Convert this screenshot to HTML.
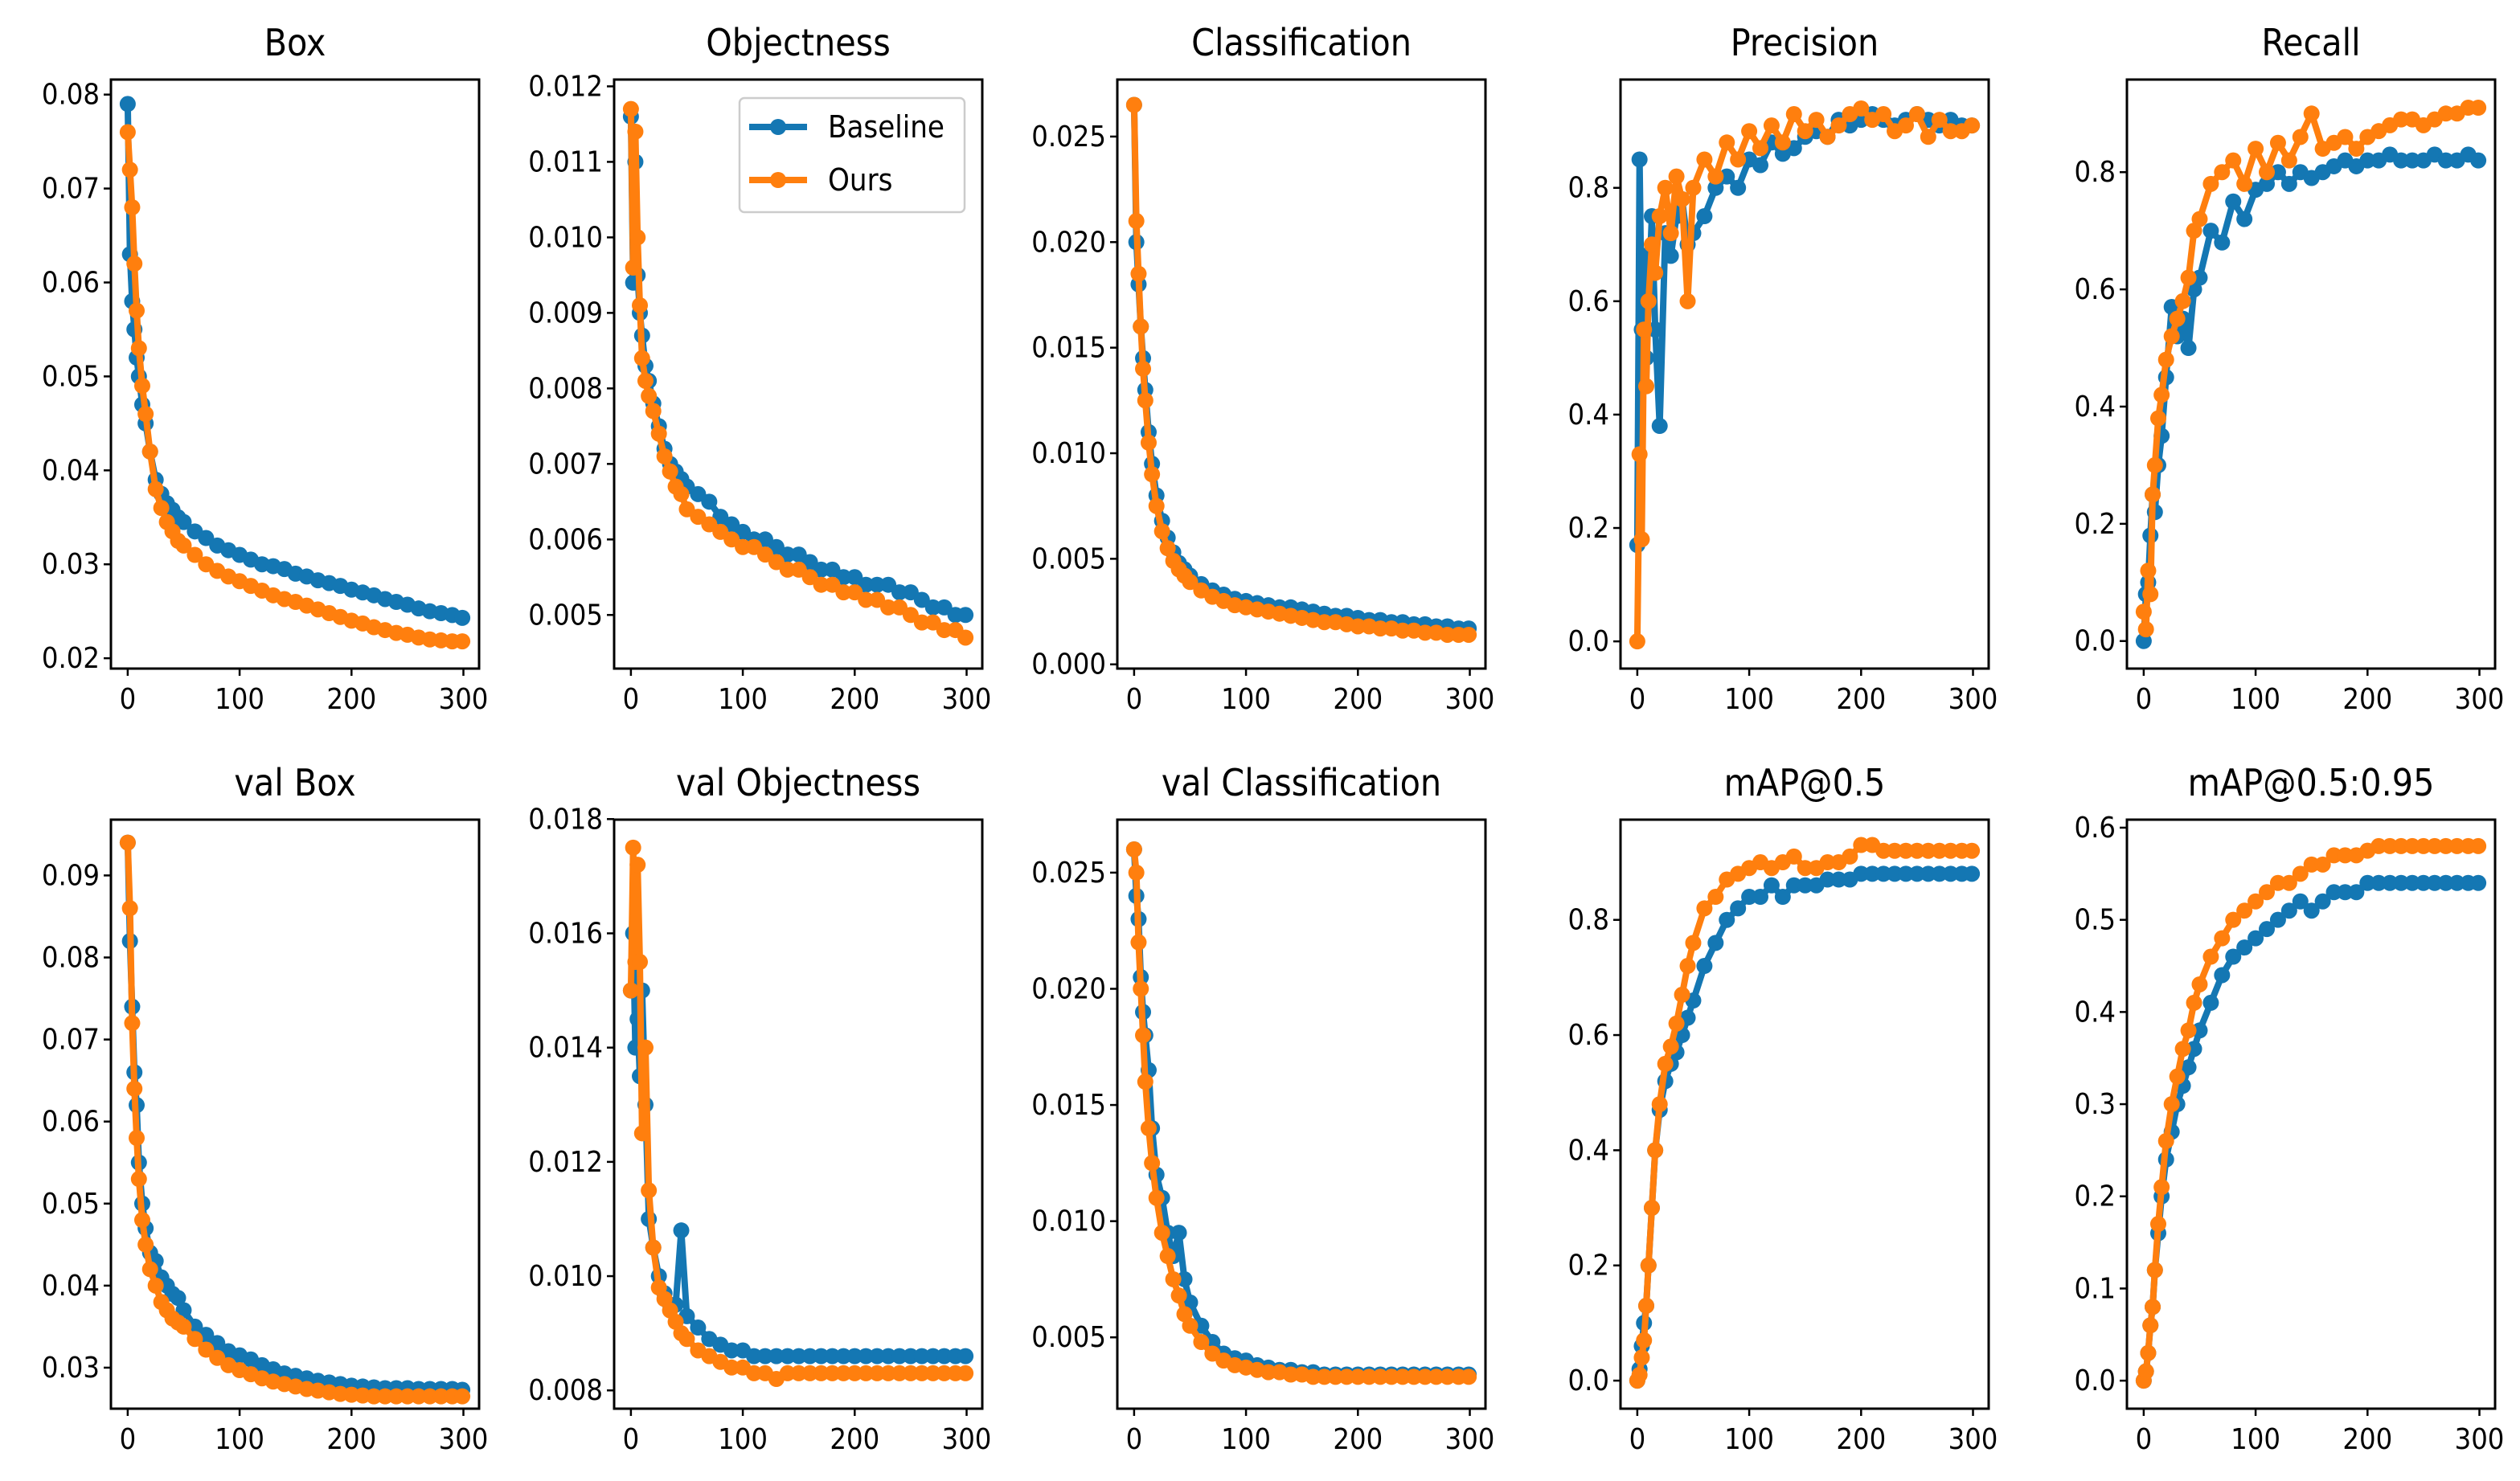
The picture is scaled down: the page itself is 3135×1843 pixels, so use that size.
<!DOCTYPE html>
<html><head><meta charset="utf-8">
<style>
html,body{margin:0;padding:0;background:#fff;}
svg{display:block;font-family:"DejaVu Sans Condensed","DejaVu Sans","Liberation Sans",sans-serif;}
</style></head>
<body>
<svg id="chart" width="3135" height="1843" viewBox="0 0 3135 1843" xmlns="http://www.w3.org/2000/svg"></svg>
<script>
const epochs = [0,2,4,6,8,10,13,16,20,25,30,35,40,45,50,60,70,80,90,100,110,120,130,140,150,160,170,180,190,200,210,220,230,240,250,260,270,280,290,299];

const titles = ["Box","Objectness","Classification","Precision","Recall","val Box","val Objectness","val Classification","mAP@0.5","mAP@0.5:0.95"];

const boxBase = [0.079,0.063,0.058,0.055,0.052,0.050,0.047,0.045,0.042,0.039,0.0375,0.0365,0.0358,0.035,0.0345,0.0335,0.0328,0.032,0.0315,0.031,0.0305,0.030,0.0298,0.0295,0.029,0.0287,0.0283,0.028,0.0277,0.0273,0.027,0.0267,0.0263,0.026,0.0257,0.0253,0.025,0.0248,0.0246,0.0243];
const boxOurs = [0.076,0.072,0.068,0.062,0.057,0.053,0.049,0.046,0.042,0.038,0.036,0.0345,0.0335,0.0325,0.032,0.031,0.030,0.0293,0.0287,0.0282,0.0277,0.0272,0.0267,0.0263,0.026,0.0256,0.0252,0.0248,0.0244,0.024,0.0237,0.0233,0.023,0.0227,0.0225,0.0222,0.022,0.0219,0.0218,0.0218];

const objBase = [0.0116,0.0094,0.0110,0.0095,0.0090,0.0087,0.0083,0.0081,0.0078,0.0075,0.0072,0.0070,0.0069,0.0068,0.0067,0.0066,0.0065,0.0063,0.0062,0.0061,0.0060,0.0060,0.0059,0.0058,0.0058,0.0057,0.0056,0.0056,0.0055,0.0055,0.0054,0.0054,0.0054,0.0053,0.0053,0.0052,0.0051,0.0051,0.0050,0.0050];
const objOurs = [0.0117,0.0096,0.0114,0.0100,0.0091,0.0084,0.0081,0.0079,0.0077,0.0074,0.0071,0.0069,0.0067,0.0066,0.0064,0.0063,0.0062,0.0061,0.0060,0.0059,0.0059,0.0058,0.0057,0.0056,0.0056,0.0055,0.0054,0.0054,0.0053,0.0053,0.0052,0.0052,0.0051,0.0051,0.0050,0.0049,0.0049,0.0048,0.0048,0.0047];

const clsBase = [0.0265,0.020,0.018,0.016,0.0145,0.013,0.011,0.0095,0.008,0.0068,0.006,0.0053,0.0048,0.0045,0.0042,0.0038,0.0035,0.0033,0.0031,0.0030,0.0029,0.0028,0.0027,0.0027,0.0026,0.0025,0.0024,0.0023,0.0023,0.0022,0.0021,0.0021,0.0020,0.0020,0.0019,0.0019,0.0018,0.0018,0.0017,0.0017];
const clsOurs = [0.0265,0.021,0.0185,0.016,0.014,0.0125,0.0105,0.009,0.0075,0.0063,0.0055,0.0049,0.0045,0.0042,0.0039,0.0035,0.0032,0.0030,0.0028,0.0027,0.0026,0.0025,0.0024,0.0023,0.0022,0.0021,0.0020,0.0020,0.0019,0.0018,0.0018,0.0017,0.0017,0.0016,0.0016,0.0015,0.0015,0.0014,0.0014,0.0014];

const precBase = [0.17,0.85,0.55,0.68,0.50,0.60,0.75,0.55,0.38,0.72,0.68,0.75,0.78,0.70,0.72,0.75,0.80,0.82,0.80,0.85,0.84,0.88,0.86,0.87,0.89,0.90,0.89,0.92,0.91,0.92,0.93,0.92,0.91,0.92,0.93,0.92,0.91,0.92,0.91,0.91];
const precOurs = [0.0,0.33,0.18,0.55,0.45,0.60,0.70,0.65,0.75,0.80,0.72,0.82,0.78,0.60,0.80,0.85,0.82,0.88,0.85,0.90,0.87,0.91,0.88,0.93,0.90,0.92,0.89,0.91,0.93,0.94,0.92,0.93,0.90,0.91,0.93,0.89,0.92,0.90,0.90,0.91];

const recBase = [0.0,0.08,0.10,0.18,0.25,0.22,0.30,0.35,0.45,0.57,0.52,0.55,0.50,0.60,0.62,0.70,0.68,0.75,0.72,0.77,0.78,0.80,0.78,0.80,0.79,0.80,0.81,0.82,0.81,0.82,0.82,0.83,0.82,0.82,0.82,0.83,0.82,0.82,0.83,0.82];
const recOurs = [0.05,0.02,0.12,0.08,0.25,0.30,0.38,0.42,0.48,0.52,0.55,0.58,0.62,0.70,0.72,0.78,0.80,0.82,0.78,0.84,0.80,0.85,0.82,0.86,0.90,0.84,0.85,0.86,0.84,0.86,0.87,0.88,0.89,0.89,0.88,0.89,0.90,0.90,0.91,0.91];

const vboxBase = [0.094,0.082,0.074,0.066,0.062,0.055,0.050,0.047,0.044,0.043,0.041,0.040,0.039,0.0385,0.037,0.035,0.034,0.033,0.032,0.0315,0.031,0.0303,0.0298,0.0293,0.029,0.0287,0.0284,0.0282,0.028,0.0278,0.0277,0.0276,0.0275,0.0275,0.0275,0.0274,0.0274,0.0274,0.0274,0.0273];
const vboxOurs = [0.094,0.086,0.072,0.064,0.058,0.053,0.048,0.045,0.042,0.040,0.038,0.037,0.036,0.0355,0.035,0.0335,0.0322,0.0312,0.0303,0.0297,0.0292,0.0287,0.0283,0.028,0.0277,0.0274,0.0272,0.027,0.0268,0.0267,0.0266,0.0265,0.0265,0.0265,0.0265,0.0265,0.0265,0.0265,0.0265,0.0265];

const vobjBase = [0.0150,0.0160,0.0140,0.0145,0.0135,0.0150,0.0130,0.0110,0.0105,0.0100,0.0097,0.0095,0.0095,0.0108,0.0093,0.0091,0.0089,0.0088,0.0087,0.0087,0.0086,0.0086,0.0086,0.0086,0.0086,0.0086,0.0086,0.0086,0.0086,0.0086,0.0086,0.0086,0.0086,0.0086,0.0086,0.0086,0.0086,0.0086,0.0086,0.0086];
const vobjOurs = [0.0150,0.0175,0.0155,0.0172,0.0155,0.0125,0.0140,0.0115,0.0105,0.0098,0.0096,0.0094,0.0092,0.0090,0.0089,0.0087,0.0086,0.0085,0.0084,0.0084,0.0083,0.0083,0.0082,0.0083,0.0083,0.0083,0.0083,0.0083,0.0083,0.0083,0.0083,0.0083,0.0083,0.0083,0.0083,0.0083,0.0083,0.0083,0.0083,0.0083];

const vclsBase = [0.026,0.024,0.023,0.0205,0.019,0.018,0.0165,0.014,0.012,0.011,0.0095,0.0085,0.0095,0.0075,0.0065,0.0055,0.0048,0.0043,0.0041,0.0040,0.0038,0.0037,0.0036,0.0036,0.0035,0.0035,0.0034,0.0034,0.0034,0.0034,0.0034,0.0034,0.0034,0.0034,0.0034,0.0034,0.0034,0.0034,0.0034,0.0034];
const vclsOurs = [0.026,0.025,0.022,0.020,0.018,0.016,0.014,0.0125,0.011,0.0095,0.0085,0.0075,0.0068,0.0060,0.0055,0.0048,0.0043,0.0040,0.0038,0.0037,0.0036,0.0035,0.0035,0.0034,0.0034,0.0033,0.0033,0.0033,0.0033,0.0033,0.0033,0.0033,0.0033,0.0033,0.0033,0.0033,0.0033,0.0033,0.0033,0.0033];

const map50Base = [0.0,0.02,0.06,0.10,0.13,0.20,0.30,0.40,0.47,0.52,0.55,0.57,0.60,0.63,0.66,0.72,0.76,0.80,0.82,0.84,0.84,0.86,0.84,0.86,0.86,0.86,0.87,0.87,0.87,0.88,0.88,0.88,0.88,0.88,0.88,0.88,0.88,0.88,0.88,0.88];
const map50Ours = [0.0,0.01,0.04,0.07,0.13,0.20,0.30,0.40,0.48,0.55,0.58,0.62,0.67,0.72,0.76,0.82,0.84,0.87,0.88,0.89,0.90,0.89,0.90,0.91,0.89,0.89,0.90,0.90,0.91,0.93,0.93,0.92,0.92,0.92,0.92,0.92,0.92,0.92,0.92,0.92];

const map95Base = [0.0,0.01,0.03,0.06,0.08,0.12,0.16,0.20,0.24,0.27,0.30,0.32,0.34,0.36,0.38,0.41,0.44,0.46,0.47,0.48,0.49,0.50,0.51,0.52,0.51,0.52,0.53,0.53,0.53,0.54,0.54,0.54,0.54,0.54,0.54,0.54,0.54,0.54,0.54,0.54];
const map95Ours = [0.0,0.01,0.03,0.06,0.08,0.12,0.17,0.21,0.26,0.30,0.33,0.36,0.38,0.41,0.43,0.46,0.48,0.50,0.51,0.52,0.53,0.54,0.54,0.55,0.56,0.56,0.57,0.57,0.57,0.575,0.58,0.58,0.58,0.58,0.58,0.58,0.58,0.58,0.58,0.58];

const yTicks = [
  ["0.02","0.03","0.04","0.05","0.06","0.07","0.08"],
  ["0.005","0.006","0.007","0.008","0.009","0.010","0.011","0.012"],
  ["0.000","0.005","0.010","0.015","0.020","0.025"],
  ["0.0","0.2","0.4","0.6","0.8"],
  ["0.0","0.2","0.4","0.6","0.8"],
  ["0.03","0.04","0.05","0.06","0.07","0.08","0.09"],
  ["0.008","0.010","0.012","0.014","0.016","0.018"],
  ["0.005","0.010","0.015","0.020","0.025"],
  ["0.0","0.2","0.4","0.6","0.8"],
  ["0.0","0.1","0.2","0.3","0.4","0.5","0.6"]
];
const xTicks = ["0","100","200","300"];
const yLimits = [[0.0189,0.0816],[0.00429,0.01209],[-0.0002,0.0277],[-0.048,0.991],[-0.047,0.958],[0.025,0.0968],[0.00768,0.01799],[0.00193,0.02728],[-0.0487,0.974],[-0.0304,0.6087]];
const seriesBase = [boxBase,objBase,clsBase,precBase,recBase,vboxBase,vobjBase,vclsBase,map50Base,map95Base];
const seriesOurs = [boxOurs,objOurs,clsOurs,precOurs,recOurs,vboxOurs,vobjOurs,vclsOurs,map50Ours,map95Ours];

const NS = "http://www.w3.org/2000/svg";
const svg = document.getElementById("chart");
const BLUE = "#1477b3", ORANGE = "#ff7f0e";
function mk(tag, attrs, parent){ const e=document.createElementNS(NS,tag); for(const k in attrs) e.setAttribute(k,attrs[k]); (parent||svg).appendChild(e); return e; }
function slug(s){ return s.toLowerCase().replace(/[^a-z0-9]+/g,"-").replace(/^-|-$/g,""); }

const W = 458;
const lefts = [138, 764, 1390, 2016, 2646];
const tops = [99, 1020], H = 733;
const xMin = -15, xMax = 314;

for (let p = 0; p < 10; p++) {
  const r = Math.floor(p/5), c = p%5;
  const L = lefts[c], T = tops[r];
  const [y0, y1] = yLimits[p];
  const sx = v => L + (v - xMin)/(xMax - xMin)*W;
  const sy = v => T + H - (v - y0)/(y1 - y0)*H;
  const g = mk("g", {});
  
  

  const t = mk("text", {x: L + W/2, y: T - 30, "text-anchor":"middle", "font-size": 46, fill:"#000"}, g);
  t.textContent = titles[p];
  
  

  [[seriesBase[p], BLUE, "baseline"], [seriesOurs[p], ORANGE, "ours"]].forEach(([vals, col, nm]) => {
    const sg = mk("g", {}, g);
    
    
    const pts = vals.map((v,i) => sx(epochs[i]).toFixed(1) + "," + sy(v).toFixed(1)).join(" ");
    const pl = mk("polyline", {points: pts, fill:"none", stroke: col, "stroke-width": 8, "stroke-linejoin":"round"}, sg);
    
    
    vals.forEach((v,i) => {
      const m = mk("circle", {cx: sx(epochs[i]), cy: sy(v), r: 10, fill: col}, sg);
      
      
    });
  });

  const frame = mk("rect", {x: L, y: T, width: W, height: H, fill: "none", stroke: "#000", "stroke-width": 3}, g);
  
  

  yTicks[p].forEach(lbl => {
    const y = sy(parseFloat(lbl));
    mk("line", {x1: L - 9, x2: L, y1: y, y2: y, stroke:"#000", "stroke-width": 2.5}, g);
    const tt = mk("text", {x: L - 14, y: y + 12, "text-anchor":"end", "font-size": 36, fill:"#000"}, g);
    tt.textContent = lbl;
    
    
  });
  xTicks.forEach(lbl => {
    const x = sx(parseFloat(lbl));
    mk("line", {x1: x, x2: x, y1: T + H, y2: T + H + 9, stroke:"#000", "stroke-width": 2.5}, g);
    const tt = mk("text", {x: x, y: T + H + 50, "text-anchor":"middle", "font-size": 36, fill:"#000"}, g);
    tt.textContent = lbl;
    
    
  });
}

const lg = mk("g", {});


mk("rect", {x: 920, y: 122, width: 280, height: 142, rx: 6, fill: "#fff", stroke: "#ccc", "stroke-width": 2.5}, lg);
[["Baseline", BLUE, 158], ["Ours", ORANGE, 224]].forEach(([name, col, y]) => {
  const e = mk("g", {}, lg);
  
  
  mk("line", {x1: 932, x2: 1004, y1: y, y2: y, stroke: col, "stroke-width": 8}, e);
  mk("circle", {cx: 968, cy: y, r: 10, fill: col}, e);
  const tx = mk("text", {x: 1030, y: y + 13, "font-size": 38, fill: "#000"}, e);
  tx.textContent = name;
});
</script>
</body></html>
